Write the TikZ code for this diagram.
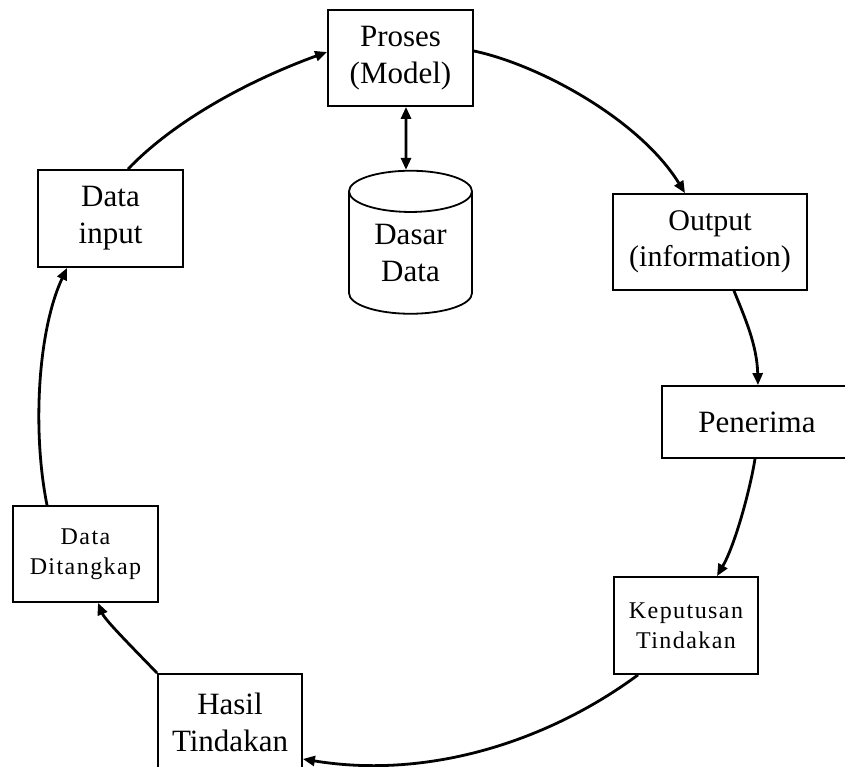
\documentclass[tikz,border=0pt]{standalone}
\usepackage{fontspec}
\setmainfont{Liberation Serif}
\usetikzlibrary{arrows.meta, shapes.geometric, positioning}

\begin{document}
\begin{tikzpicture}[x=1pt, y=-1pt,
    box/.style={draw, line width=1.8pt, align=center, inner sep=0pt},
    big/.style={font=\fontsize{31}{37}\selectfont},
    mid/.style={font=\fontsize{30}{36}\selectfont},
    small/.style={font=\fontsize{24}{30}\selectfont\addfontfeature{LetterSpace=6}},
    flow/.style={line width=2.8pt, -{Triangle[length=12pt,width=10pt]}},
    twoway/.style={line width=2.8pt, {Triangle[length=12pt,width=10pt]}-{Triangle[length=12pt,width=10pt]}},
    ]
\useasboundingbox (0, 0) rectangle (845, 767);
\clip (0, 0) rectangle (845, 767);

\node[box, big, minimum width=145, minimum height=96] (proses) at (400.5, 58) {Proses\\(Model)};
\node[draw, line width=1.8pt, cylinder, shape border rotate=90, aspect=0.57,
      minimum width=123, minimum height=143, inner sep=0pt, big, align=center] (dasar) at (410.5, 253) {Dasar\\Data};
\node[box, big, minimum width=145, minimum height=97] (datainput) at (110.5, 218.5) {Data\\input};
\node[box, mid, minimum width=194, minimum height=96] (output) at (710, 242) {Output\\(information)};
\node[box, big, minimum width=190, minimum height=72] (penerima) at (757, 422) {Penerima};
\node[box, small, minimum width=144, minimum height=97] (keputusan) at (686, 625.5) {Keputusan\\Tindakan};
\node[box, small, minimum width=145, minimum height=96] (ditangkap) at (85.5, 554) {Data\\Ditangkap};
\node[box, big, minimum width=144, minimum height=96] (hasil) at (230, 722) {Hasil\\Tindakan};

\draw[flow] ([xshift=17.5pt]datainput.north) .. controls (175, 120) and (250, 80) .. ([yshift=6pt]proses.west);
\draw[flow] ([yshift=7pt]proses.east) .. controls (540, 65) and (640, 120) .. ([xshift=-25pt]output.north);
\draw[twoway] ([xshift=5.5pt]proses.south) -- ([xshift=-4.5pt]dasar.north);
\draw[flow] ([xshift=24pt]output.south) .. controls (745, 318) and (757, 345) .. ([xshift=1pt]penerima.north);
\draw[flow] ([xshift=-2pt]penerima.south) .. controls (750, 490) and (735, 545) .. ([xshift=31pt]keputusan.north);
\draw[flow] ([xshift=-48pt]keputusan.south) .. controls (550, 740) and (430, 780) .. ([yshift=-37pt]hasil.east);
\draw[flow] (hasil.north west) .. controls (130, 645) and (105, 620) .. ([xshift=12.5pt]ditangkap.south);
\draw[flow] ([xshift=-38.5pt]ditangkap.north) .. controls (32, 430) and (38, 330) .. ([xshift=-43.5pt]datainput.south);
\end{tikzpicture}
\end{document}
